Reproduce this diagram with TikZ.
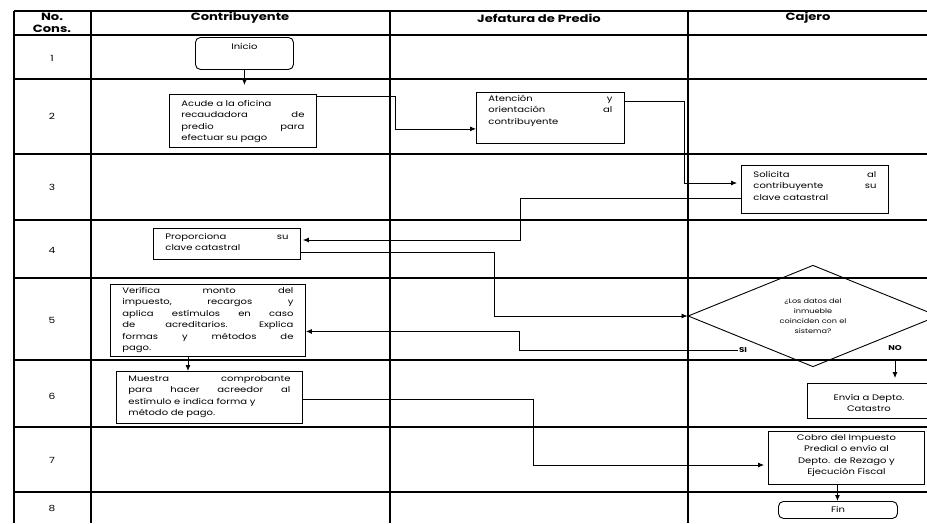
\documentclass[tikz,border=0pt]{standalone}
\usepackage{fontspec}
\setmainfont{Poppins}[FakeStretch=1.25]
\usetikzlibrary{arrows.meta,shapes.geometric}

\tikzset{
  rejilla/.style={line width=1.1pt},
  encab/.style={font=\bfseries\fontsize{10.5}{11}\selectfont, inner sep=0pt},
  numfila/.style={font=\fontsize{8.5}{10}\selectfont, inner sep=0pt},
  caja/.style={draw, line width=0.9pt, anchor=north west, align=left,
    inner xsep=12pt, inner ysep=2pt, font=\fontsize{8}{11.5}\selectfont},
  cajac/.style={caja, align=center, inner xsep=4pt},
  terminal/.style={cajac, rounded corners=5pt},
  decision/.style={draw, diamond, line width=0.9pt, minimum width=250pt,
    minimum height=90pt, inner sep=0pt, align=center,
    font=\fontsize{6.5}{10}\selectfont},
  flujo/.style={->, line width=0.8pt},
  etiq/.style={font=\bfseries\fontsize{7}{8}\selectfont, inner sep=1pt}
}

\begin{document}
\begin{tikzpicture}[x=1pt, y=-1pt, >={Latex[length=6pt,width=5pt]}]
\useasboundingbox (0,0) rectangle (927,523);
% table grid
\foreach \y in {11,35,79,154,220,278,360,427,492}
  \draw[rejilla] (14,\y) -- (927,\y);
\foreach \x in {14,91,390,688}
  \draw[rejilla] (\x,11) -- (\x,523);
% column heads
\node[encab] (hno) at (52,17) {No.};
\node[encab] (hcons) at (52,29) {Cons.};
\node[encab] (hcontri) at (240,18) {Contribuyente};
\node[encab] (hjefe) at (539,18) {Jefatura de Predio};
\node[encab] (hcaja) at (808,18) {Cajero};
% step numbers
\foreach \n/\y in {1/58,2/116,3/187,4/250,5/320,6/396,7/460,8/508}
  \node[numfila] (num\n) at (52,\y) {\n};

% steps
\node[terminal, text width=90pt, text height=10pt, text depth=18pt] (inicio) at (195,37) {Inicio};
\node[caja, text width=123pt, text height=10pt, text depth=39pt] (acude) at (169,94)
  {Acude a la oficina\\ recaudadora \hfill de\\ predio \hfill para\\ efectuar su pago};
\node[caja, text width=124pt, text height=7pt, text depth=40pt] (atencion) at (476,92)
  {Atención \hfill y\\ orientación \hfill al\\ contribuyente};
\node[caja, text width=123pt, text height=10pt, text depth=34pt] (solicita) at (741,165)
  {Solicita \hfill al\\ contribuyente \hfill su\\ clave catastral};
\node[caja, text width=123pt, text height=9pt, text depth=18pt] (proporciona) at (153,228)
  {Proporciona \hfill su\\ clave catastral};
\node[decision] (datos) at (813,316)
  {¿Los datos del\\ inmueble\\ coinciden con el\\ sistema?};
\node[caja, text width=171pt, text height=7pt, text depth=61pt] (verifica) at (110,284)
  {Verifica \hfill monto \hfill del\\ impuesto, \hfill recargos \hfill y\\
   aplica \hfill estímulos \hfill en \hfill caso\\ de \hfill acreditarios. \hfill Explica\\
   formas \hfill y \hfill métodos \hfill de\\ pago.};
\node[caja, text width=162pt, text height=8pt, text depth=40pt] (muestra) at (116,371)
  {Muestra \hfill comprobante\\ para \hfill hacer \hfill acreedor \hfill al\\
   estímulo e indica forma y\\ método de pago.};
\node[cajac, text width=115pt, text height=15pt, text depth=16pt] (envia) at (807,383)
  {Envía a Depto.\\ Catastro};
\node[cajac, text width=148pt, text height=7pt, text depth=42pt] (cobro) at (768,431)
  {Cobro del Impuesto\\ Predial o envío al\\ Depto. de Rezago y\\ Ejecución Fiscal};
\node[terminal, text width=111pt, text height=9pt, text depth=4pt] (fin) at (778,501) {Fin};
\node[etiq] (si) at (743,350) {SI};
\node[etiq] (no) at (895,348) {NO};

% connectors
\draw[flujo, shorten >=9pt] (inicio.south) -- (inicio.south |- acude.north);
\draw[flujo] ([yshift=-2pt]acude.north east) -- ++(78,0) |- ([yshift=15pt]atencion.south west);
\draw[flujo, shorten >=4pt] ([yshift=-9pt]atencion.north east) -- ++(59,0) |- ([yshift=-18pt]solicita.north west);
\draw[flujo, shorten >=2pt] ([yshift=16pt]solicita.south west) -- ++(-221,0) |- ([yshift=-12pt]proporciona.north east);
\draw[flujo] ([yshift=8pt]proporciona.south east) -- ++(193,0) |- (datos.west);
\draw[flujo] (si.west) -- ++(-218,0) |- ([yshift=-11pt]verifica.east);
\draw[flujo, shorten <=8pt, shorten >=5pt] (no.south) -- (no.south |- envia.north);
\draw[flujo] ([xshift=-20pt]verifica.south) -- ([xshift=-20pt]verifica.south |- muestra.north);
\draw[flujo, shorten >=4pt] ([yshift=-28pt]muestra.north east) -- ++(230,0) |- ([yshift=-34pt]cobro.north west);
\draw[flujo] ([xshift=-9pt]cobro.south) -- ([xshift=-9pt]cobro.south |- fin.north);
\end{tikzpicture}
\end{document}
